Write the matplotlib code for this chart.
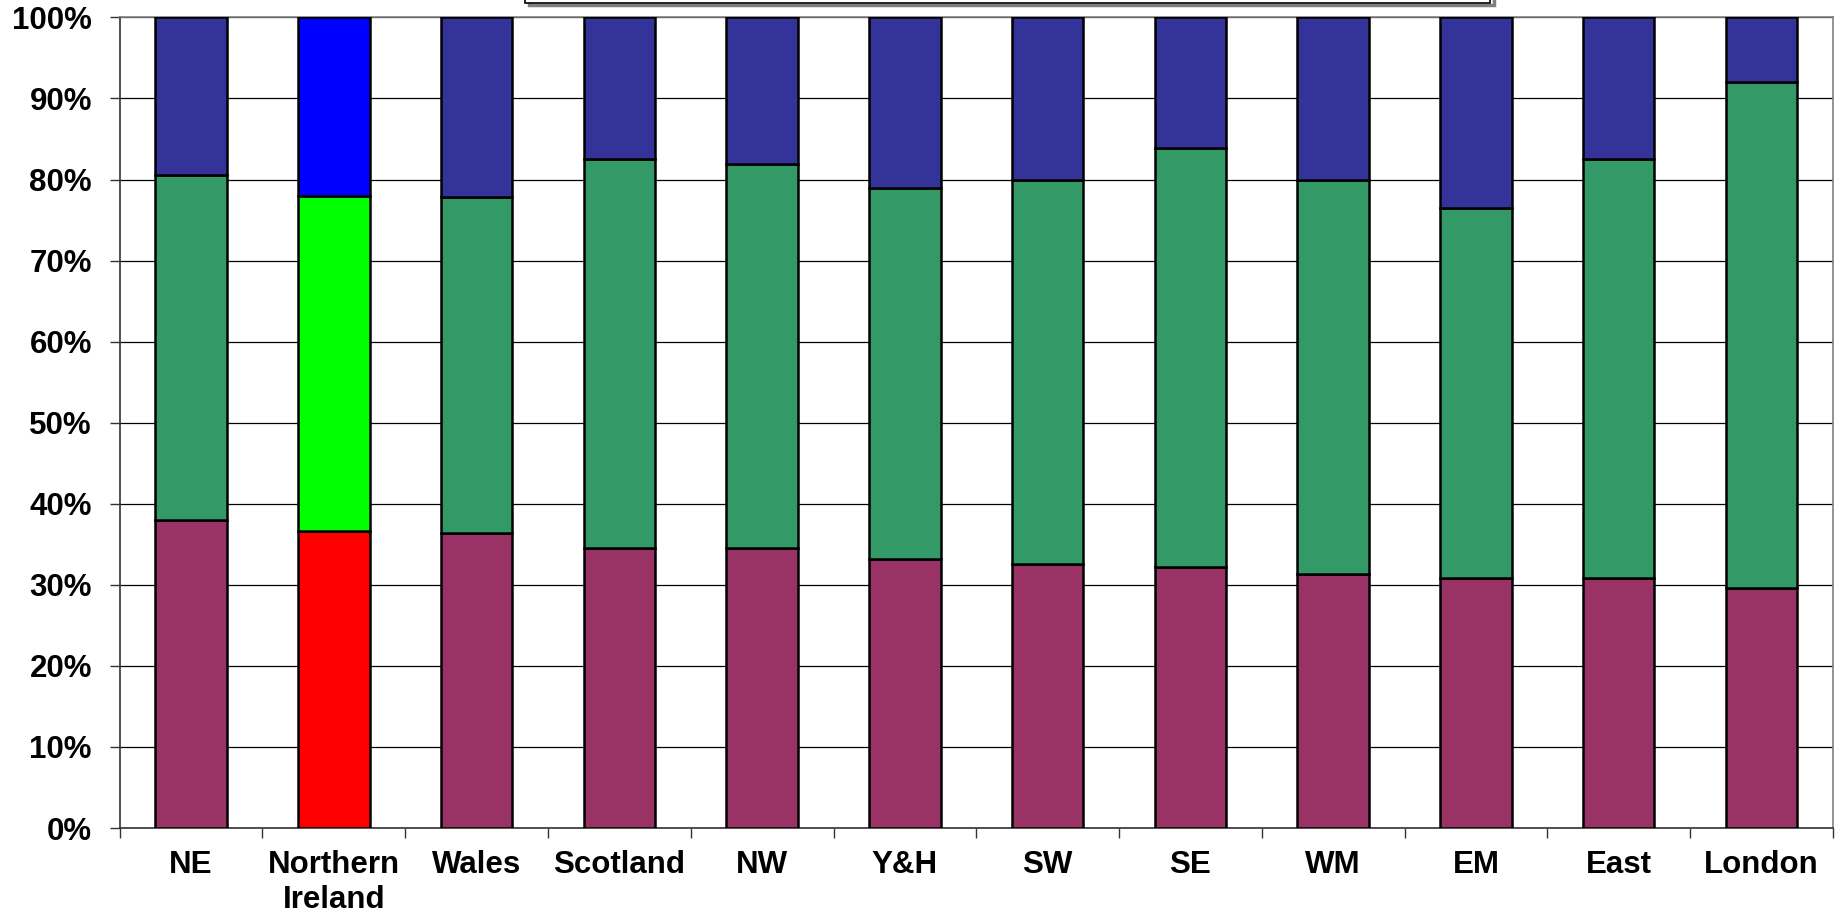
import matplotlib
matplotlib.use("Agg")
import matplotlib.pyplot as plt
from matplotlib.patches import Rectangle
import numpy as np

plt.rcParams['font.family'] = ['Liberation Sans', 'DejaVu Sans']

regions = ['NE', 'Northern\nIreland', 'Wales', 'Scotland', 'NW', 'Y&H', 'SW',
           'SE', 'WM', 'EM', 'East', 'London']
# cumulative tops (%)
bottom_top = [38.0, 36.7, 36.4, 34.5, 34.5, 33.2, 32.6, 32.2, 31.3, 30.9, 30.9, 29.6]
middle_top = [80.6, 78.0, 77.8, 82.5, 81.9, 79.0, 80.0, 83.9, 79.9, 76.5, 82.5, 92.0]

seg1 = np.array(bottom_top)
seg2 = np.array(middle_top) - seg1
seg3 = 100 - np.array(middle_top)

c1 = ['#993366'] * 12
c2 = ['#339966'] * 12
c3 = ['#333399'] * 12
c1[1], c2[1], c3[1] = '#FF0000', '#00FF00', '#0000FF'

fig = plt.figure(figsize=(18.42, 9.16), dpi=100)
ax = fig.add_axes([0.065, 0.096, 0.93, 0.885])

x = np.arange(12) + 0.5
kw = dict(width=0.5, edgecolor='black', linewidth=1.8, zorder=3)
ax.bar(x, seg1, color=c1, **kw)
ax.bar(x, seg2, bottom=seg1, color=c2, **kw)
ax.bar(x, seg3, bottom=seg1 + seg2, color=c3, **kw)

ax.set_xlim(0, 12)
ax.set_ylim(0, 100)
ax.set_yticks(np.arange(0, 101, 10))
ax.set_yticklabels([f'{v}%' for v in range(0, 101, 10)], fontsize=22.5, fontweight='bold')
ax.yaxis.grid(True, color='black', linewidth=0.9, zorder=0)
ax.set_axisbelow(True)

ax.set_xticks(np.arange(13))
ax.set_xticklabels([])
ax.set_xticks(x, minor=True)
ax.set_xticklabels(regions, minor=True, fontsize=22.5, fontweight='bold', linespacing=1.2)
ax.tick_params(axis='x', which='minor', length=0, pad=16)
ax.tick_params(axis='x', which='major', length=7, width=1, color='#333333')
ax.tick_params(axis='y', length=7, width=1, color='#333333', pad=13)

ax.spines['left'].set_color('#333333')
ax.spines['bottom'].set_color('#333333')
ax.spines['top'].set_color('#808080')
ax.spines['right'].set_color('#808080')
for s in ax.spines.values():
    s.set_linewidth(1.2)

# legend box cut off at the top of the picture
fig.patches.append(Rectangle((0.287, 0.995), 0.524, 0.05, transform=fig.transFigure,
                             facecolor='white', edgecolor='#808080', linewidth=2.5))
fig.patches.append(Rectangle((0.285, 0.997), 0.524, 0.05, transform=fig.transFigure,
                             facecolor='white', edgecolor='black', linewidth=1.2))

fig.savefig('out.png', dpi=100)
